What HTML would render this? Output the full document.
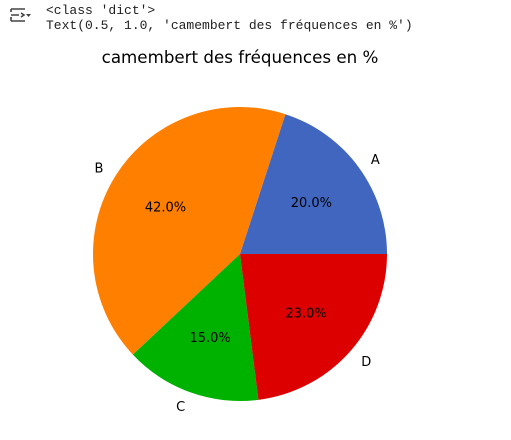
<!DOCTYPE html>
<html><head><meta charset="utf-8"><style>
body{margin:0;width:511px;height:440px;background:#fff;overflow:hidden;position:relative}
.out{position:absolute;left:46px;font:13px "Liberation Mono",monospace;color:#212121;white-space:pre}
</style></head><body>
<svg style="position:absolute;left:10px;top:6px" width="22" height="20" viewBox="0 0 22 20">
<path d="M1 3h14M1 9h8M1 15h14M1 11v4M1 3v3M11 7l3 2-3 2" stroke="#444" stroke-width="1.6" fill="none"/>
<path d="M16 8l2.5 3 2.5-3z" fill="#444"/></svg>
<div class="out" style="top:3px">&lt;class 'dict'&gt;</div>
<div class="out" style="top:18px">Text(0.5, 1.0, 'camembert des fréquences en %')</div>
<svg id="chart" width="511" height="440" style="position:absolute;left:0;top:0">
<text x="240" y="63" text-anchor="middle" font-family="DejaVu Sans, sans-serif" font-size="16.7">camembert des fréquences en %</text>
</svg>
<script>
const categories=['A','B','C','D'];
const values=[20,42,15,23];
const colors=['#4066bf','#ff7f00','#00b200','#dd0000'];
const svg=document.getElementById('chart'),NS='http://www.w3.org/2000/svg';
const cx=240,cy=254,r=147;
const total=values.reduce((a,b)=>a+b,0);
let a0=0;
values.forEach((v,i)=>{
  const a1=a0+v/total*2*Math.PI;
  const p=a=>[cx+r*Math.cos(a),cy-r*Math.sin(a)];
  const [x0,y0]=p(a0),[x1,y1]=p(a1);
  const path=document.createElementNS(NS,'path');
  path.setAttribute('d',`M${cx},${cy}L${x0},${y0}A${r},${r} 0 ${a1-a0>Math.PI?1:0} 0 ${x1},${y1}Z`);
  path.setAttribute('fill',colors[i]);
  
  
  svg.appendChild(path);
  const m=(a0+a1)/2;
  const t=document.createElementNS(NS,'text');
  t.setAttribute('x',cx+1.1*r*Math.cos(m));t.setAttribute('y',cy-1.1*r*Math.sin(m)+5);
  t.setAttribute('text-anchor',Math.cos(m)>=0?'start':'end');
  t.setAttribute('font-family','DejaVu Sans, sans-serif');t.setAttribute('font-size','13');
  t.textContent=categories[i];
  
  
  svg.appendChild(t);
  const q=document.createElementNS(NS,'text');
  q.setAttribute('x',cx+0.6*r*Math.cos(m));q.setAttribute('y',cy-0.6*r*Math.sin(m)+5);
  q.setAttribute('text-anchor','middle');
  q.setAttribute('font-family','DejaVu Sans, sans-serif');q.setAttribute('font-size','13');
  q.textContent=(v/total*100).toFixed(1)+'%';
  
  
  svg.appendChild(q);
  a0=a1;
});
</script>
</body></html>
